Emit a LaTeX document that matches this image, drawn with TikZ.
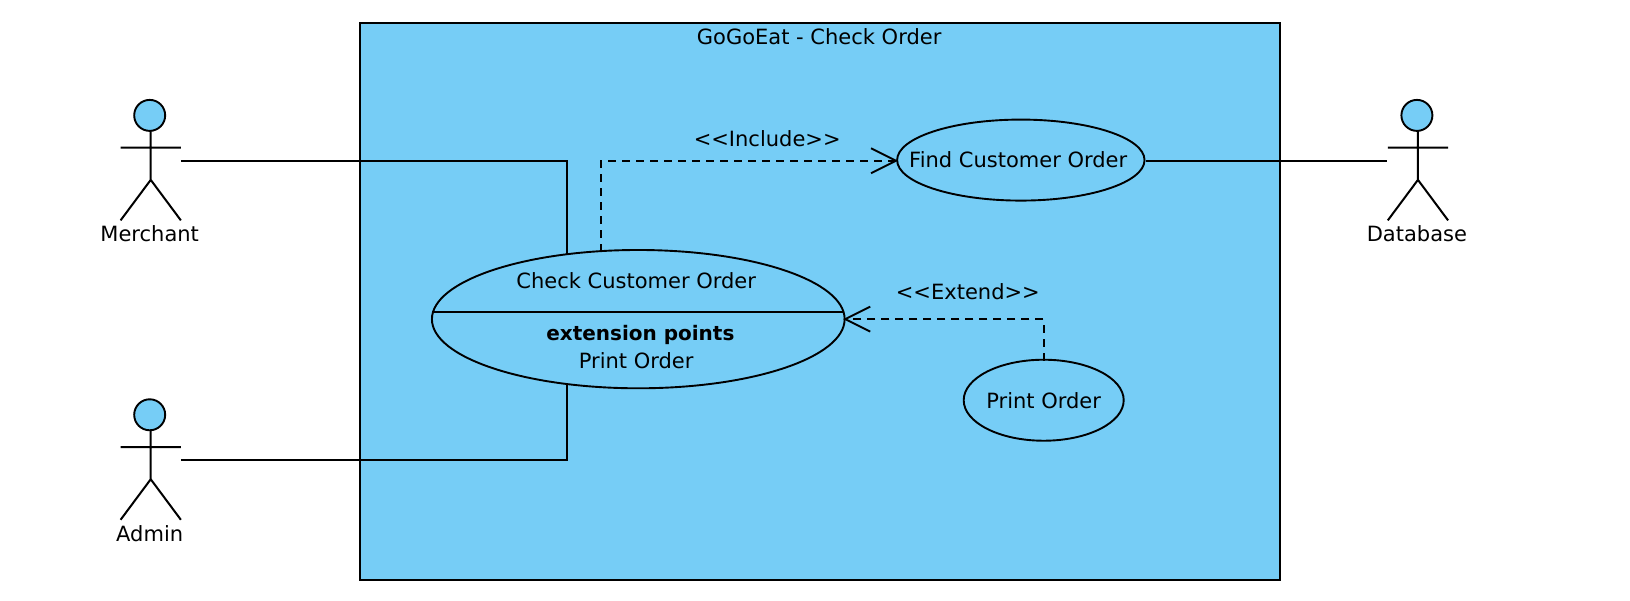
\documentclass[tikz,border=0pt]{standalone}
\usepackage{fontspec}
\setmainfont{DejaVu Sans}
\usetikzlibrary{arrows.meta,shapes.geometric}
\definecolor{ucblue}{HTML}{76CDF6}
\tikzset{
 x=1.0395pt,y=-1.0395pt,
 line/.style={draw=black,line width=2pt},
 uc/.style={ellipse,draw=black,line width=1.9pt,fill=ucblue,inner sep=0pt},
 lab/.style={font=\fontsize{21}{24}\selectfont,text=black,inner sep=0pt},
 dep/.style={draw=black,line width=1.9pt,dash pattern=on 8pt off 6pt,-{Straight Barb[length=25pt,width=25pt,line width=1.9pt]}},
}
\newcommand{\actorfig}[3]{%
 \draw[line] (#1,#2+15) -- (#1,#2+62) (#1-29,#2+31) -- (#1+29,#2+31) (#1-29,#2+101) -- (#1,#2+62) -- (#1+29,#2+101);
 \node[circle,draw=black,line width=1.9pt,fill=ucblue,minimum size=31pt,inner sep=0pt] at (#1-1,#2) {};
 \node[lab] at (#1-1,#2+114) {#3};
}
\begin{document}
\begin{tikzpicture}
\useasboundingbox (0,0) rectangle (1568,577.2);
\fill[white] (0,0) rectangle (1568,577.2);
\node[draw=black,line width=1.9pt,fill=ucblue,minimum width=920pt,minimum height=557pt,inner sep=0pt] (sys) at (789,290) {};
\node[lab] (title) at (788,35) {GoGoEat - Check Order};
\actorfig{145}{111}{Merchant}
\actorfig{145}{399}{Admin}
\actorfig{1364}{111}{Database}
\coordinate (m) at (174,154.6);
\coordinate (a) at (174,442.2);
\coordinate (d) at (1334,154.6);
\coordinate (mj) at (545,154.6);
\coordinate (aj) at (545,442.2);
\node[uc,minimum width=412.7pt,minimum height=138.3pt] (check) at (614,307) {};
\node[uc,minimum width=247.4pt,minimum height=81pt] (find) at (982,154) {};
\node[uc,minimum width=160pt,minimum height=81pt] (print) at (1004,385) {};
\coordinate (cl) at (416,300);
\coordinate (cr) at (811,300);
\draw[line width=1.5pt] (cl) -- (cr);
\node[lab] at (612,270) {Check Customer Order};
\node[lab,font=\fontsize{20}{24}\selectfont\bfseries] at (616,322) {extension points};
\node[lab] at (612,347) {Print Order};
\node[lab] at (979.5,154) {Find Customer Order};
\node[lab] at (1004,385) {Print Order};
\draw[line] (m) -- (mj) -- (545,244);
\draw[line] (a) -- (aj) -- (545,370);
\draw[line] (find.east |- d) -- (d);
\coordinate (i1) at (578,242);
\coordinate (i2) at (578,154.6);
\coordinate (i3) at (864,154.6);
\draw[dep] (i1) -- (i2) -- (i3);
\coordinate (e1) at (1004,347);
\coordinate (e2) at (1004,307);
\coordinate (e3) at (811,307);
\draw[dep] (e1) -- (e2) -- (e3);
\node[lab] at (738,133) {<{}<Include>{}>};
\node[lab] at (931,281) {<{}<Extend>{}>};
\end{tikzpicture}
\end{document}
